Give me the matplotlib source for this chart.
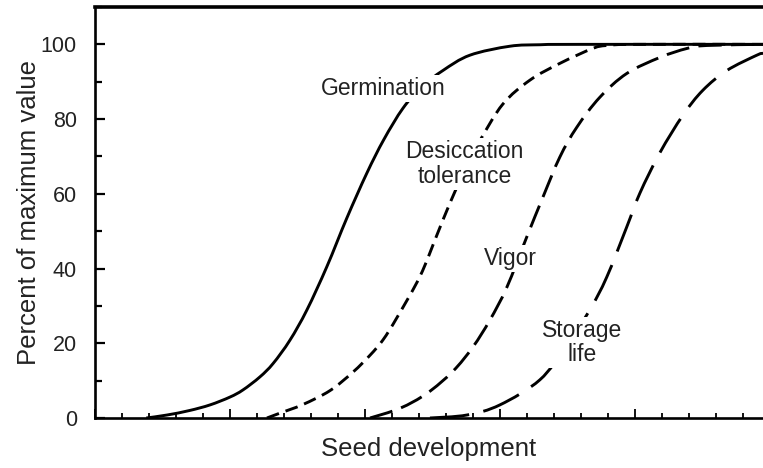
import matplotlib
matplotlib.use("Agg")
import matplotlib.pyplot as plt
from matplotlib.ticker import MultipleLocator, NullFormatter
from matplotlib.path import Path
from matplotlib.patches import PathPatch

plt.rcParams['font.family'] = ['Liberation Sans', 'DejaVu Sans']

# Data (x = seed development units, y = percent of maximum)
germ_x = [1.9, 2.67, 3.5, 4.26, 5.0, 5.48, 6.11, 6.6, 7.22, 7.85, 8.59, 9.33, 10.07, 10.7, 11.41, 12.1, 12.89, 13.89, 15.37, 16.5, 18.0, 24.75]
germ_y = [0.0, 0.8, 2.0, 3.5, 5.6, 7.5, 11.0, 14.6, 20.8, 28.9, 40.5, 53.5, 65.5, 74.5, 82.9, 88.6, 93.0, 97.1, 99.5, 99.9, 100.0, 100.0]

desic_x = [6.37, 6.85, 7.7, 8.7, 9.56, 10.19, 10.67, 11.19, 12.04, 12.67, 13.15, 13.7, 14.26, 15.11, 16.11, 17.22, 18.44, 18.96, 20.0, 24.75]
desic_y = [0.0, 1.3, 3.6, 7.3, 12.3, 16.8, 20.9, 26.9, 37.9, 49.0, 57.5, 66.3, 74.2, 84.0, 90.4, 94.9, 98.9, 99.7, 100.0, 100.0]

vigor_x = [10.19, 11.3, 12.3, 13.26, 14.0, 14.63, 15.26, 16.0, 16.59, 17.22, 17.85, 18.7, 19.7, 20.93, 21.93, 22.67, 24.75]
vigor_y = [0.0, 2.6, 6.6, 12.5, 19.0, 26.2, 35.0, 48.5, 59.0, 69.8, 77.8, 85.8, 92.2, 96.5, 98.9, 99.7, 100.0]

stor_x = [12.41, 13.78, 15.0, 16.48, 17.45, 18.33, 18.96, 19.7, 20.19, 20.93, 21.78, 22.52, 23.41, 24.52, 24.75]
stor_y = [0.0, 0.8, 3.5, 10.2, 19.2, 28.9, 37.7, 51.1, 60.2, 71.0, 81.0, 87.7, 93.0, 97.1, 97.6]

y_ticks = [0, 20, 40, 60, 80, 100]
y_ticklabels = ['0', '20', '40', '60', '80', '100']

labels = {
    'Germination': (10.67, 88.2),
    'Desiccation\ntolerance': (13.7, 68.0),
    'Vigor': (15.4, 42.8),
    'Storage\nlife': (18.04, 20.2),
}


def smooth_path(xs, ys):
    """Catmull-Rom curve through the read points, drawn as Bezier segments."""
    pts = list(zip(xs, ys))
    verts = [pts[0]]
    codes = [Path.MOVETO]
    n = len(pts)
    for i in range(n - 1):
        p0 = pts[i - 1] if i > 0 else pts[i]
        p1 = pts[i]
        p2 = pts[i + 1]
        p3 = pts[i + 2] if i + 2 < n else pts[i + 1]
        c1 = (p1[0] + (p2[0] - p0[0]) / 6.0, p1[1] + (p2[1] - p0[1]) / 6.0)
        c2 = (p2[0] - (p3[0] - p1[0]) / 6.0, p2[1] - (p3[1] - p1[1]) / 6.0)
        verts += [c1, c2, p2]
        codes += [Path.CURVE4] * 3
    return Path(verts, codes)


fig = plt.figure(figsize=(7.63, 4.68), dpi=100)
ax = fig.add_axes([95/763, 1 - 418/468, 1 - 95/763, (418 - 7)/468])

lw = 2.1
series = [
    (germ_x, germ_y, '-'),
    (desic_x, desic_y, (0, (4.4, 2.4))),
    (vigor_x, vigor_y, (0, (8.0, 3.2))),
    (stor_x, stor_y, (0, (13.5, 5.0))),
]
for xs, ys, ls in series:
    patch = PathPatch(smooth_path(xs, ys), fill=False, edgecolor='black', lw=lw,
                      linestyle=ls, capstyle='butt', transform=ax.transData, zorder=2)
    ax.add_patch(patch)

for txt, (tx, ty) in labels.items():
    ax.text(tx, ty, txt, ha='center', va='center', fontsize=16.5, color='#222222',
            linespacing=1.1, zorder=3,
            bbox=dict(facecolor='white', edgecolor='none', pad=1.5))

ax.set_xlim(0, 24.75)
ax.set_ylim(0, 110)

ax.xaxis.set_major_locator(MultipleLocator(5))
ax.xaxis.set_minor_locator(MultipleLocator(1))
ax.xaxis.set_major_formatter(NullFormatter())
ax.set_yticks(y_ticks)
ax.set_yticklabels(y_ticklabels)
ax.yaxis.set_minor_locator(MultipleLocator(10))

ax.tick_params(axis='x', which='major', direction='in', length=6.5, width=1.3)
ax.tick_params(axis='x', which='minor', direction='in', length=3.5, width=1.3)
ax.tick_params(axis='y', which='major', direction='in', length=7.5, width=1.6, pad=13, labelsize=15.5, labelcolor='#222222')
ax.tick_params(axis='y', which='minor', direction='in', length=5, width=1.6)

ax.spines['right'].set_visible(False)
ax.spines['top'].set_linewidth(2.6)
ax.spines['left'].set_linewidth(1.9)
ax.spines['bottom'].set_linewidth(1.9)

ax.set_xlabel('Seed development', fontsize=18.5, color='#222222', labelpad=10)
ax.set_ylabel('Percent of maximum value', fontsize=18.5, color='#222222', labelpad=0)

fig.savefig('out.png', dpi=100)
